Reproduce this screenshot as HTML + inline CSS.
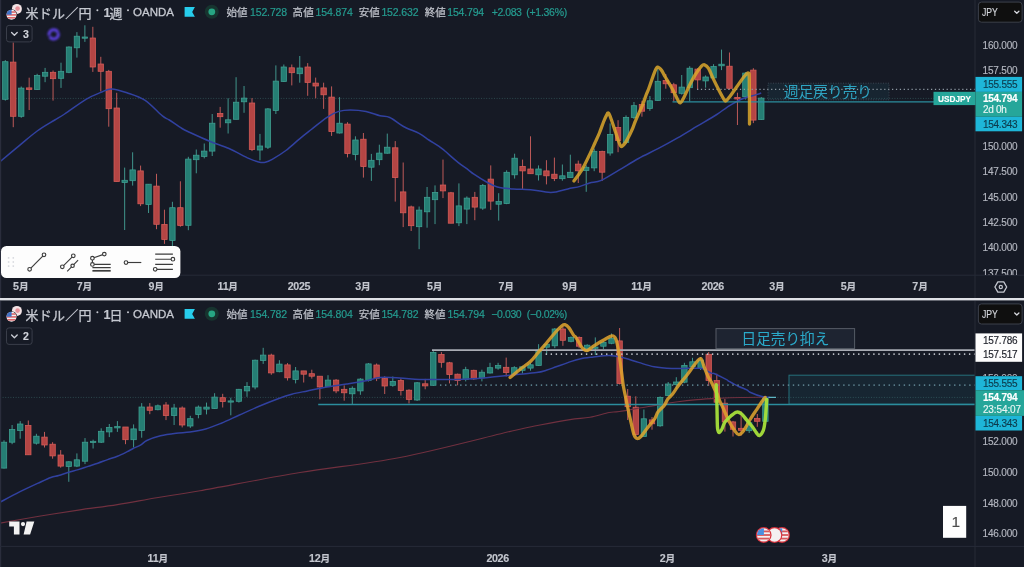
<!DOCTYPE html><html lang="ja"><head><meta charset="utf-8"><title>USDJPY</title><style>
html,body{margin:0;padding:0}
body{width:1024px;height:567px;overflow:hidden;background:#161a25;position:relative;font-family:"Liberation Sans","Noto Sans CJK JP",sans-serif}
#c{position:absolute;left:0;top:0;filter:blur(.38px)}
.t{filter:blur(.3px);-webkit-text-stroke:.15px currentColor}
.t{position:absolute;white-space:nowrap}
.m{font-size:.9em}
.bg{fill:#257e74;stroke:#40a193;stroke-width:.75}
.br{fill:#b44544;stroke:#d85e5a;stroke-width:.75}
.wg{stroke:#48ab9e;stroke-width:.85}
.wr{stroke:#dc6662;stroke-width:.85}
</style></head><body>
<svg id="c" width="1024" height="567" viewBox="0 0 1024 567" fill="none">
<filter id="gl" x="-50%" y="-50%" width="200%" height="200%"><feGaussianBlur stdDeviation=".8"/></filter>
<defs><clipPath id="c1"><rect x="0" y="0" width="975" height="275.2"/></clipPath><clipPath id="c2"><rect x="0" y="301" width="975" height="245.4"/></clipPath></defs>
<g clip-path="url(#c1)">
<path d="M0 98.4H975" stroke="#3f6f70" stroke-width="1" stroke-dasharray="1 1.6" opacity=".55"/>
<path class="wg" d="M5.3 60.1V100.6"/>
<rect class="bg" x="2.6" y="61.7" width="5.4" height="37.6"/>
<path class="wr" d="M13.26 42.5V127.2"/>
<rect class="br" x="10.56" y="62.1" width="5.4" height="54.2"/>
<path class="wg" d="M21.22 86.5V117.8"/>
<rect class="bg" x="18.52" y="88.1" width="5.4" height="28.2"/>
<path class="wr" d="M29.17 77.7V110"/>
<rect class="br" x="26.47" y="87.9" width="5.4" height="1.6"/>
<path class="wg" d="M37.13 73.8V90"/>
<rect class="bg" x="34.43" y="75.4" width="5.4" height="14.1"/>
<path class="wg" d="M45.09 67.9V82.2"/>
<rect class="bg" x="42.39" y="72.3" width="5.4" height="3.9"/>
<path class="wr" d="M53.05 70.5V100.6"/>
<rect class="br" x="50.35" y="72.3" width="5.4" height="6.4"/>
<path class="wg" d="M61.01 62.7V87.9"/>
<rect class="bg" x="58.31" y="71.3" width="5.4" height="7"/>
<path class="wg" d="M68.96 46.4V73.2"/>
<rect class="bg" x="66.26" y="47" width="5.4" height="25.3"/>
<path class="wg" d="M76.92 32.1V57.6"/>
<rect class="bg" x="74.22" y="36.2" width="5.4" height="11.6"/>
<path class="wg" d="M84.88 25.3V41.9"/>
<rect class="bg" x="82.18" y="37" width="5.4" height="1.2"/>
<path class="wr" d="M92.84 26.8V71.9"/>
<rect class="br" x="90.14" y="38" width="5.4" height="29"/>
<path class="wr" d="M100.8 56.8V91.4"/>
<rect class="br" x="98.1" y="64" width="5.4" height="7.3"/>
<path class="wr" d="M108.75 69.9V126.7"/>
<rect class="br" x="106.05" y="71.3" width="5.4" height="37.4"/>
<path class="wr" d="M116.71 92.8V181.6"/>
<rect class="br" x="114.01" y="108" width="5.4" height="73.6"/>
<path class="wg" d="M124.67 167.6V230"/>
<rect class="bg" x="121.97" y="180.3" width="5.4" height="2.3"/>
<path class="wg" d="M132.63 152.3V185.6"/>
<rect class="bg" x="129.93" y="169.9" width="5.4" height="10.8"/>
<path class="wr" d="M140.59 165.6V206.1"/>
<rect class="br" x="137.89" y="170.9" width="5.4" height="32.9"/>
<path class="wg" d="M148.54 184.2V213"/>
<rect class="bg" x="145.84" y="184.2" width="5.4" height="20.3"/>
<path class="wr" d="M156.5 173.8V229.2"/>
<rect class="br" x="153.8" y="186.1" width="5.4" height="38.2"/>
<path class="wr" d="M164.46 209.7V243.9"/>
<rect class="br" x="161.76" y="224.4" width="5.4" height="15.2"/>
<path class="wg" d="M172.42 201.8V246"/>
<rect class="bg" x="169.72" y="207.7" width="5.4" height="32.7"/>
<path class="wr" d="M180.38 181.3V226.7"/>
<rect class="br" x="177.68" y="207.7" width="5.4" height="17.8"/>
<path class="wg" d="M188.33 156.8V230.2"/>
<rect class="bg" x="185.63" y="159.1" width="5.4" height="66.2"/>
<path class="wg" d="M196.29 149.5V173.3"/>
<rect class="bg" x="193.59" y="155.2" width="5.4" height="4.5"/>
<path class="wg" d="M204.25 143.5V158.4"/>
<rect class="bg" x="201.55" y="151.1" width="5.4" height="5.3"/>
<path class="wg" d="M212.21 114V156"/>
<rect class="bg" x="209.51" y="123.2" width="5.4" height="27.9"/>
<path class="wr" d="M220.17 106.9V127.7"/>
<rect class="br" x="217.47" y="113.4" width="5.4" height="3.3"/>
<path class="wg" d="M228.12 98.3V133.5"/>
<rect class="bg" x="225.42" y="119.8" width="5.4" height="3"/>
<path class="wg" d="M236.08 77.2V119.3"/>
<rect class="bg" x="233.38" y="102.2" width="5.4" height="17.1"/>
<path class="wg" d="M244.04 86V112.8"/>
<rect class="bg" x="241.34" y="98.1" width="5.4" height="3.7"/>
<path class="wr" d="M252 98.1V151.1"/>
<rect class="br" x="249.3" y="103" width="5.4" height="46.6"/>
<path class="wg" d="M259.96 133.9V160.3"/>
<rect class="bg" x="257.26" y="146" width="5.4" height="4"/>
<path class="wg" d="M267.91 108.1V149"/>
<rect class="bg" x="265.21" y="108.9" width="5.4" height="38.3"/>
<path class="wg" d="M275.87 65.4V114"/>
<rect class="bg" x="273.17" y="81.1" width="5.4" height="29.4"/>
<path class="wg" d="M283.83 64.5V82"/>
<rect class="bg" x="281.13" y="67" width="5.4" height="14.5"/>
<path class="wr" d="M291.79 64.5V85.4"/>
<rect class="br" x="289.09" y="67.8" width="5.4" height="4.9"/>
<path class="wg" d="M299.75 56V82.7"/>
<rect class="bg" x="297.05" y="68" width="5.4" height="5.7"/>
<path class="wr" d="M307.7 63.1V95.8"/>
<rect class="br" x="305" y="67" width="5.4" height="15.5"/>
<path class="wr" d="M315.66 77.6V98.3"/>
<rect class="br" x="312.96" y="83.1" width="5.4" height="2.9"/>
<path class="wr" d="M323.62 82.7V108.9"/>
<rect class="br" x="320.92" y="87.9" width="5.4" height="6.9"/>
<path class="wr" d="M331.58 86.4V135.9"/>
<rect class="br" x="328.88" y="97.1" width="5.4" height="34.5"/>
<path class="wg" d="M339.54 97.1V133.5"/>
<rect class="bg" x="336.84" y="123.2" width="5.4" height="9.8"/>
<path class="wr" d="M347.49 122.2V157.4"/>
<rect class="br" x="344.79" y="124.1" width="5.4" height="29.4"/>
<path class="wg" d="M355.45 136.3V160.3"/>
<rect class="bg" x="352.75" y="140" width="5.4" height="14.5"/>
<path class="wr" d="M363.41 133V177.6"/>
<rect class="br" x="360.71" y="139.2" width="5.4" height="27.4"/>
<path class="wg" d="M371.37 153.9V180.9"/>
<rect class="bg" x="368.67" y="160.3" width="5.4" height="6.9"/>
<path class="wg" d="M379.33 144.7V165.2"/>
<rect class="bg" x="376.63" y="153.1" width="5.4" height="6.6"/>
<path class="wg" d="M387.28 133.6V153.7"/>
<rect class="bg" x="384.58" y="147.2" width="5.4" height="6"/>
<path class="wr" d="M395.24 141.1V201.6"/>
<rect class="br" x="392.54" y="147.8" width="5.4" height="29.8"/>
<path class="wr" d="M403.2 162.5V227.1"/>
<rect class="br" x="400.5" y="191.9" width="5.4" height="20.9"/>
<path class="wr" d="M411.16 205.6V231"/>
<rect class="br" x="408.46" y="206.9" width="5.4" height="18.8"/>
<path class="wg" d="M419.12 206.5V249.2"/>
<rect class="bg" x="416.42" y="210.1" width="5.4" height="16.6"/>
<path class="wg" d="M427.07 187V227.7"/>
<rect class="bg" x="424.37" y="197.3" width="5.4" height="14.5"/>
<path class="wg" d="M435.03 185.4V224.1"/>
<rect class="bg" x="432.33" y="192.4" width="5.4" height="7.3"/>
<path class="wr" d="M442.99 159.6V198.1"/>
<rect class="br" x="440.29" y="185" width="5.4" height="5.9"/>
<path class="wr" d="M450.95 191.9V223.2"/>
<rect class="br" x="448.25" y="192.8" width="5.4" height="30.4"/>
<path class="wg" d="M458.91 183.4V226.1"/>
<rect class="bg" x="456.21" y="205.9" width="5.4" height="16.9"/>
<path class="wg" d="M466.86 196.4V224.1"/>
<rect class="bg" x="464.16" y="198.1" width="5.4" height="11"/>
<path class="wr" d="M474.82 191.9V220.2"/>
<rect class="br" x="472.12" y="197.3" width="5.4" height="9.8"/>
<path class="wg" d="M482.78 184V209.9"/>
<rect class="bg" x="480.08" y="185.6" width="5.4" height="22.5"/>
<path class="wr" d="M490.74 165.4V209.9"/>
<rect class="br" x="488.04" y="179.1" width="5.4" height="22"/>
<path class="wg" d="M498.7 193.2V220.6"/>
<rect class="bg" x="496" y="201.6" width="5.4" height="2.6"/>
<path class="wg" d="M506.65 170.3V204.2"/>
<rect class="bg" x="503.95" y="172.3" width="5.4" height="31.3"/>
<path class="wg" d="M514.61 153.7V178.6"/>
<rect class="bg" x="511.91" y="158.2" width="5.4" height="16.6"/>
<path class="wr" d="M522.57 159.6V188.9"/>
<rect class="br" x="519.87" y="166.4" width="5.4" height="4.5"/>
<path class="wr" d="M530.53 136.3V173.7"/>
<rect class="br" x="527.83" y="169" width="5.4" height="4.7"/>
<path class="wg" d="M538.49 165.4V180.5"/>
<rect class="bg" x="535.79" y="169" width="5.4" height="5.8"/>
<path class="wr" d="M546.44 160.2V184.4"/>
<rect class="br" x="543.74" y="170.9" width="5.4" height="4.9"/>
<path class="wr" d="M554.4 157.6V181.1"/>
<rect class="br" x="551.7" y="174.2" width="5.4" height="4.4"/>
<path class="wg" d="M562.36 164.5V180.7"/>
<rect class="bg" x="559.66" y="175.8" width="5.4" height="2.9"/>
<path class="wg" d="M570.32 154.7V177.6"/>
<rect class="bg" x="567.62" y="172.3" width="5.4" height="5.3"/>
<path class="wr" d="M578.28 160.6V183"/>
<rect class="br" x="575.58" y="164.1" width="5.4" height="6.7"/>
<path class="wg" d="M586.23 165.3V191.8"/>
<rect class="bg" x="583.53" y="167.3" width="5.4" height="3.3"/>
<path class="wg" d="M594.19 148.7V171.2"/>
<rect class="bg" x="591.49" y="151.3" width="5.4" height="16.6"/>
<path class="wr" d="M602.15 150.7V181"/>
<rect class="br" x="599.45" y="151.6" width="5.4" height="20.6"/>
<path class="wg" d="M610.11 123.4V155.6"/>
<rect class="bg" x="607.41" y="134.4" width="5.4" height="18.6"/>
<path class="wr" d="M618.07 120.2V152.2"/>
<rect class="br" x="615.37" y="127.5" width="5.4" height="13"/>
<path class="wg" d="M626.02 115.4V143.8"/>
<rect class="bg" x="623.32" y="117.4" width="5.4" height="25"/>
<path class="wg" d="M633.98 102V119"/>
<rect class="bg" x="631.28" y="105.7" width="5.4" height="11.7"/>
<path class="wr" d="M641.94 100.8V116.7"/>
<rect class="br" x="639.24" y="104.5" width="5.4" height="6.7"/>
<path class="wg" d="M649.9 96V110.8"/>
<rect class="bg" x="647.2" y="100.8" width="5.4" height="7.6"/>
<path class="wg" d="M657.86 68.2V101"/>
<rect class="bg" x="655.16" y="81.3" width="5.4" height="19.1"/>
<path class="wr" d="M665.81 74V88.7"/>
<rect class="br" x="663.11" y="80.5" width="5.4" height="3.3"/>
<path class="wr" d="M673.77 82.8V101.3"/>
<rect class="br" x="671.07" y="84.8" width="5.4" height="7.9"/>
<path class="wg" d="M681.73 75V94.6"/>
<rect class="bg" x="679.03" y="87.1" width="5.4" height="6.2"/>
<path class="wg" d="M689.69 66.2V101.4"/>
<rect class="bg" x="686.99" y="68.2" width="5.4" height="19.5"/>
<path class="wr" d="M697.65 68.2V89.7"/>
<rect class="br" x="694.95" y="69.1" width="5.4" height="10.8"/>
<path class="wg" d="M705.6 75.4V87.7"/>
<rect class="bg" x="702.9" y="77" width="5.4" height="3.9"/>
<path class="wg" d="M713.56 64.2V78.9"/>
<rect class="bg" x="710.86" y="66.6" width="5.4" height="11.3"/>
<path class="wg" d="M721.52 49.6V70.1"/>
<rect class="bg" x="718.82" y="64.2" width="5.4" height="1.6"/>
<path class="wr" d="M729.48 52.5V89.7"/>
<rect class="br" x="726.78" y="66.2" width="5.4" height="22.1"/>
<path class="wr" d="M737.44 92.7V125"/>
<rect class="br" x="734.74" y="97.4" width="5.4" height="1.6"/>
<path class="wg" d="M745.39 72.1V99.6"/>
<rect class="bg" x="742.69" y="73.1" width="5.4" height="23.7"/>
<path class="wr" d="M753.35 68.2V123.1"/>
<rect class="br" x="750.65" y="70.1" width="5.4" height="50"/>
<path class="wg" d="M761.31 97.1V120"/>
<rect class="bg" x="758.61" y="98.1" width="5.4" height="21.4"/>
<path d="M0 161.7C3.27 158.98 13.4 150.52 19.6 145.4C25.8 140.28 31.33 135.23 37.2 131C43.07 126.77 50.23 122.83 54.8 120C59.37 117.17 59.4 117.45 64.6 114C69.8 110.55 79.8 102.97 86 99.3C92.2 95.63 97.55 93.73 101.8 92C106.05 90.27 107.3 88.77 111.5 88.9C115.7 89.03 121.45 90.92 127 92.8C132.55 94.68 138.9 96.35 144.8 100.2C150.7 104.05 158.32 112.6 162.4 115.9C166.48 119.2 166.03 117.9 169.3 120C172.57 122.1 178.55 126.42 182 128.5C185.45 130.58 185.4 130.38 190 132.5C194.6 134.62 203.1 138.53 209.6 141.2C216.1 143.87 222.48 145.63 229 148.5C235.52 151.37 243.78 156.17 248.7 158.4C253.62 160.63 255.73 161.25 258.5 161.9C261.27 162.55 263.02 162.72 265.3 162.3C267.58 161.88 268.77 161.37 272.2 159.4C275.63 157.43 281.33 153.93 285.9 150.5C290.47 147.07 295.37 142.3 299.6 138.8C303.83 135.3 306.73 133.08 311.3 129.5C315.87 125.92 322.43 120.32 327 117.3C331.57 114.28 334.78 112.63 338.7 111.4C342.62 110.17 345.95 109.9 350.5 109.9C355.05 109.9 361.08 110.42 366 111.4C370.92 112.38 376.03 114.78 380 115.8C383.97 116.82 385.88 115.72 389.8 117.5C393.72 119.28 398.62 123.85 403.5 126.5C408.38 129.15 414.87 131.15 419.1 133.4C423.33 135.65 425.63 137.88 428.9 140C432.17 142.12 436.08 144.3 438.7 146.1C441.32 147.9 441.33 148.05 444.6 150.8C447.87 153.55 454.4 159.47 458.3 162.6C462.2 165.73 465.4 167.67 468 169.6C470.6 171.53 470.95 172.22 473.9 174.2C476.85 176.18 481.78 179.37 485.7 181.5C489.62 183.63 492.83 185.77 497.4 187C501.97 188.23 507.23 188.42 513.1 188.9C518.97 189.38 526.73 189.33 532.6 189.9C538.47 190.47 544.38 191.97 548.3 192.3C552.22 192.63 552.83 192.47 556.1 191.9C559.37 191.33 563.92 189.82 567.9 188.9C571.88 187.98 576.38 187.38 580 186.4C583.62 185.42 586.05 184 589.6 183C593.15 182 596.42 182.53 601.3 180.4C606.18 178.27 612.7 173.85 618.9 170.2C625.1 166.55 631.98 162.08 638.5 158.5C645.02 154.92 651.48 152.13 658 148.7C664.52 145.27 671.07 141.65 677.6 137.9C684.13 134.15 690.67 130.1 697.2 126.2C703.73 122.3 711.83 117.65 716.8 114.5C721.77 111.35 723.02 109.8 727 107.3C730.98 104.8 735.82 101.62 740.7 99.5C745.58 97.38 752.88 95.68 756.3 94.6C759.72 93.52 760.38 93.27 761.2 93" fill="none" stroke="#3141a0" stroke-width="1.5" stroke-linejoin="round"/>
<rect x="768" y="83.2" width="121" height="16.6" fill="rgba(40,140,160,.10)" stroke="#3a4552" stroke-width="1" stroke-dasharray="1 1.5"/>
<path d="M697 89.4H975" stroke="#8e99a3" stroke-width="1.25" stroke-dasharray="1.25 2.65" stroke-linecap="butt"/>
<path d="M672.5 101.9H975" stroke="#2b8d9d" stroke-width="1.4"/>
<path d="M573.9 181C575.2 179.2 579.08 174.6 581.7 170.2C584.32 165.8 587.4 159.13 589.6 154.6C591.8 150.07 593.27 146.6 594.9 143C596.53 139.4 597.97 136.5 599.4 133C600.83 129.5 602.3 124.98 603.5 122C604.7 119.02 605.75 116.57 606.6 115.1C607.45 113.63 607.78 112.38 608.6 113.2C609.42 114.02 610.37 116.9 611.5 120C612.63 123.1 614.23 128.3 615.4 131.8C616.57 135.3 617.58 138.58 618.5 141C619.42 143.42 620.07 145.63 620.9 146.3C621.73 146.97 622.45 146.12 623.5 145C624.55 143.88 625.68 142.35 627.2 139.6C628.72 136.85 631.3 131.43 632.6 128.5C633.9 125.57 633.68 125.15 635 122C636.32 118.85 639.2 112.53 640.5 109.6C641.8 106.67 641.83 106.92 642.8 104.4C643.77 101.88 645.32 97.12 646.3 94.5C647.28 91.88 647.32 92.43 648.7 88.7C650.08 84.97 653.13 75.68 654.6 72.1C656.07 68.52 656.37 67.53 657.5 67.2C658.63 66.87 660.1 68.47 661.4 70.1C662.7 71.73 663.5 73.9 665.3 77C667.1 80.1 670.07 84.78 672.2 88.7C674.33 92.62 676.73 98.15 678.1 100.5C679.47 102.85 679.43 103.3 680.4 102.8C681.37 102.3 682.33 100.5 683.9 97.5C685.47 94.5 687.83 88.72 689.8 84.8C691.77 80.88 693.75 77.1 695.7 74C697.65 70.9 700.03 67.73 701.5 66.2C702.97 64.67 703.35 64.47 704.5 64.8C705.65 65.13 706.93 65.85 708.4 68.2C709.87 70.55 711.5 75.15 713.3 78.9C715.1 82.65 717.4 87.27 719.2 90.7C721 94.13 722.97 97.82 724.1 99.5C725.23 101.18 725.03 101.3 726 100.8C726.97 100.3 728.1 98.83 729.9 96.5C731.7 94.17 734.35 90.22 736.8 86.8C739.25 83.38 742.65 78.3 744.6 76C746.55 73.7 747.72 72.33 748.5 73C749.28 73.67 749.13 71.5 749.3 80C749.47 88.5 749.47 116.67 749.5 124" fill="none" stroke="#dba72c" stroke-opacity=".85" stroke-width="3.3" stroke-linejoin="round" stroke-linecap="round"/>
</g>
<g clip-path="url(#c2)">
<path d="M0 397.4H975" stroke="#3f6f70" stroke-width="1" stroke-dasharray="1 1.6" opacity=".55"/>
<rect x="789" y="375.2" width="190" height="29" fill="rgba(40,150,165,.10)" stroke="#25707c" stroke-width="1"/>
<path class="wg" d="M4 440.3V468.5"/>
<rect class="bg" x="1.3" y="442.2" width="5.4" height="25.9"/>
<path class="wg" d="M12.1 425V444.2"/>
<rect class="bg" x="9.4" y="429.5" width="5.4" height="12.7"/>
<path class="wg" d="M20.2 421.1V438.7"/>
<rect class="bg" x="17.5" y="424" width="5.4" height="6.5"/>
<path class="wr" d="M28.3 420.5V454.8"/>
<rect class="br" x="25.6" y="425.4" width="5.4" height="29.4"/>
<path class="wg" d="M36.4 433.8V444.6"/>
<rect class="bg" x="33.7" y="436.2" width="5.4" height="7"/>
<path class="wr" d="M44.5 431.9V447.5"/>
<rect class="br" x="41.8" y="437.1" width="5.4" height="7.9"/>
<path class="wr" d="M52.6 442.2V458.7"/>
<rect class="br" x="49.9" y="444.2" width="5.4" height="11.7"/>
<path class="wr" d="M60.7 450.1V467.7"/>
<rect class="br" x="58" y="455" width="5.4" height="11.1"/>
<path class="wg" d="M68.8 461.2V481.8"/>
<rect class="bg" x="66.1" y="461.8" width="5.4" height="4.7"/>
<path class="wg" d="M76.9 453.4V467.1"/>
<rect class="bg" x="74.2" y="459.8" width="5.4" height="6.3"/>
<path class="wg" d="M85 438.1V464.1"/>
<rect class="bg" x="82.3" y="442.2" width="5.4" height="19"/>
<path class="wg" d="M93.1 439.7V448.5"/>
<rect class="bg" x="90.4" y="441.3" width="5.4" height="1.3"/>
<path class="wg" d="M101.2 428.3V443"/>
<rect class="bg" x="98.5" y="431.3" width="5.4" height="10.9"/>
<path class="wg" d="M109.3 424V437.1"/>
<rect class="bg" x="106.6" y="427.4" width="5.4" height="4.5"/>
<path class="wg" d="M117.4 421.1V431.9"/>
<rect class="bg" x="114.7" y="426.6" width="5.4" height="1.3"/>
<path class="wr" d="M125.5 427V444.2"/>
<rect class="br" x="122.8" y="427" width="5.4" height="12.7"/>
<path class="wg" d="M133.6 424.4V447.5"/>
<rect class="bg" x="130.9" y="428.9" width="5.4" height="10.8"/>
<path class="wg" d="M141.7 403.1V437.7"/>
<rect class="bg" x="139" y="407" width="5.4" height="23.5"/>
<path class="wr" d="M149.8 403.1V414.2"/>
<rect class="br" x="147.1" y="407" width="5.4" height="3.3"/>
<path class="wg" d="M157.9 404.5V410.3"/>
<rect class="bg" x="155.2" y="405.8" width="5.4" height="3.9"/>
<path class="wr" d="M166 402.1V420.1"/>
<rect class="br" x="163.3" y="405" width="5.4" height="10.6"/>
<path class="wg" d="M174.1 403.9V425"/>
<rect class="bg" x="171.4" y="408" width="5.4" height="7.6"/>
<path class="wr" d="M182.2 406.4V427.4"/>
<rect class="br" x="179.5" y="408" width="5.4" height="17"/>
<path class="wg" d="M190.3 415.8V427.9"/>
<rect class="bg" x="187.6" y="418.7" width="5.4" height="7.3"/>
<path class="wg" d="M198.4 405.5V418.3"/>
<rect class="bg" x="195.7" y="407.1" width="5.4" height="7.4"/>
<path class="wg" d="M206.5 402.6V414.4"/>
<rect class="bg" x="203.8" y="407.1" width="5.4" height="2"/>
<path class="wg" d="M214.6 393.2V408.9"/>
<rect class="bg" x="211.9" y="397.1" width="5.4" height="11.4"/>
<path class="wr" d="M222.7 393.8V407.5"/>
<rect class="br" x="220" y="397.7" width="5.4" height="3.9"/>
<path class="wg" d="M230.8 397.7V415.3"/>
<rect class="bg" x="228.1" y="400.9" width="5.4" height="1.2"/>
<path class="wg" d="M238.9 388.9V402.6"/>
<rect class="bg" x="236.2" y="389.3" width="5.4" height="12"/>
<path class="wg" d="M247 382.1V396.8"/>
<rect class="bg" x="244.3" y="386.4" width="5.4" height="4.5"/>
<path class="wg" d="M255.1 359.6V389.3"/>
<rect class="bg" x="252.4" y="360.2" width="5.4" height="26.8"/>
<path class="wg" d="M263.2 347.8V363.9"/>
<rect class="bg" x="260.5" y="355.1" width="5.4" height="5.4"/>
<path class="wr" d="M271.3 353.7V374.8"/>
<rect class="br" x="268.6" y="355.1" width="5.4" height="17.8"/>
<path class="wg" d="M279.4 360.2V372.3"/>
<rect class="bg" x="276.7" y="364.1" width="5.4" height="7.6"/>
<path class="wr" d="M287.5 363.1V380.5"/>
<rect class="br" x="284.8" y="364.9" width="5.4" height="12.9"/>
<path class="wg" d="M295.6 367V383.4"/>
<rect class="bg" x="292.9" y="370.9" width="5.4" height="8.6"/>
<path class="wr" d="M303.7 370.9V382.5"/>
<rect class="br" x="301" y="370.9" width="5.4" height="3.3"/>
<path class="wr" d="M311.8 369.7V378.6"/>
<rect class="br" x="309.1" y="373.7" width="5.4" height="2.5"/>
<path class="wr" d="M319.9 376.2V399.3"/>
<rect class="br" x="317.2" y="376.2" width="5.4" height="10.8"/>
<path class="wg" d="M328 375.2V387"/>
<rect class="bg" x="325.3" y="380.1" width="5.4" height="6.5"/>
<path class="wr" d="M336.1 379.1V393.2"/>
<rect class="br" x="333.4" y="380.1" width="5.4" height="10.8"/>
<path class="wr" d="M344.2 385.4V400.7"/>
<rect class="br" x="341.5" y="389.3" width="5.4" height="3.5"/>
<path class="wg" d="M352.3 386.4V404.2"/>
<rect class="bg" x="349.6" y="388.3" width="5.4" height="5.5"/>
<path class="wg" d="M360.4 378.2V394.8"/>
<rect class="bg" x="357.7" y="379.1" width="5.4" height="11.8"/>
<path class="wg" d="M368.5 363.1V381.5"/>
<rect class="bg" x="365.8" y="363.9" width="5.4" height="16.6"/>
<path class="wr" d="M376.6 363.5V381.1"/>
<rect class="br" x="373.9" y="365" width="5.4" height="13.2"/>
<path class="wr" d="M384.7 376.3V394"/>
<rect class="br" x="382" y="378.3" width="5.4" height="7.7"/>
<path class="wg" d="M392.8 376.5V386.7"/>
<rect class="bg" x="390.1" y="381.4" width="5.4" height="3.9"/>
<path class="wr" d="M400.9 378.5V395.5"/>
<rect class="br" x="398.2" y="380.5" width="5.4" height="10.1"/>
<path class="wr" d="M409 389.3V403.5"/>
<rect class="br" x="406.3" y="390.2" width="5.4" height="9.2"/>
<path class="wg" d="M417.1 382V401"/>
<rect class="bg" x="414.4" y="382.8" width="5.4" height="17.2"/>
<path class="wr" d="M425.2 378.9V389.3"/>
<rect class="br" x="422.5" y="383.8" width="5.4" height="2.1"/>
<path class="wg" d="M433.3 351.1V385.9"/>
<rect class="bg" x="430.6" y="352.5" width="5.4" height="32.8"/>
<path class="wr" d="M441.4 352.1V367.7"/>
<rect class="br" x="438.7" y="354.4" width="5.4" height="7.9"/>
<path class="wr" d="M449.5 361.9V383.4"/>
<rect class="br" x="446.8" y="362.8" width="5.4" height="11.8"/>
<path class="wr" d="M457.6 373.6V385.3"/>
<rect class="br" x="454.9" y="374.2" width="5.4" height="6.3"/>
<path class="wg" d="M465.7 366.8V381.4"/>
<rect class="bg" x="463" y="369.7" width="5.4" height="9.8"/>
<path class="wr" d="M473.8 369.7V379.9"/>
<rect class="br" x="471.1" y="370.3" width="5.4" height="8.6"/>
<path class="wg" d="M481.9 369.7V381.4"/>
<rect class="bg" x="479.2" y="372.2" width="5.4" height="5.7"/>
<path class="wg" d="M490 362.8V373.6"/>
<rect class="bg" x="487.3" y="367.7" width="5.4" height="5.3"/>
<path class="wg" d="M498.1 362.8V369.7"/>
<rect class="bg" x="495.4" y="365.4" width="5.4" height="2.7"/>
<path class="wr" d="M506.2 357.6V376.5"/>
<rect class="br" x="503.5" y="367.3" width="5.4" height="5.3"/>
<path class="wg" d="M514.3 366.2V375.6"/>
<rect class="bg" x="511.6" y="367.7" width="5.4" height="6.9"/>
<path class="wg" d="M522.4 365.8V373.6"/>
<rect class="bg" x="519.7" y="366.8" width="5.4" height="3.5"/>
<path class="wg" d="M530.5 362.8V370.7"/>
<rect class="bg" x="527.8" y="364.8" width="5.4" height="3.3"/>
<path class="wg" d="M538.6 344.2V365.8"/>
<rect class="bg" x="535.9" y="350.1" width="5.4" height="15.3"/>
<path class="wg" d="M546.7 343.3V354.6"/>
<rect class="bg" x="544" y="344.2" width="5.4" height="3"/>
<path class="wg" d="M554.8 328V348.2"/>
<rect class="bg" x="552.1" y="329" width="5.4" height="16.8"/>
<path class="wr" d="M562.9 326.6V345.8"/>
<rect class="br" x="560.2" y="329" width="5.4" height="11.3"/>
<path class="wg" d="M571 336.4V342.3"/>
<rect class="bg" x="568.3" y="337.5" width="5.4" height="3.8"/>
<path class="wr" d="M579.1 336.4V348.2"/>
<rect class="br" x="576.4" y="337.4" width="5.4" height="8.8"/>
<path class="wg" d="M587.2 344.2V352.1"/>
<rect class="bg" x="584.5" y="345.2" width="5.4" height="3.4"/>
<path class="wg" d="M595.3 337.4V355"/>
<rect class="bg" x="592.6" y="347.1" width="5.4" height="1.2"/>
<path class="wg" d="M603.4 341.3V349.1"/>
<rect class="bg" x="600.7" y="342.3" width="5.4" height="3.9"/>
<path class="wg" d="M611.5 333.5V344.2"/>
<rect class="bg" x="608.8" y="338.4" width="5.4" height="4.9"/>
<path class="wr" d="M619.6 328V384.4"/>
<rect class="br" x="616.9" y="340.9" width="5.4" height="42.6"/>
<path class="wr" d="M627.7 389V420"/>
<rect class="br" x="625" y="396.2" width="5.4" height="10.5"/>
<path class="wr" d="M635.8 396.3V436.5"/>
<rect class="br" x="633.1" y="407.2" width="5.4" height="27.4"/>
<path class="wg" d="M643.9 409.5V436.5"/>
<rect class="bg" x="641.2" y="418.8" width="5.4" height="17.7"/>
<path class="wr" d="M652 417V429.7"/>
<rect class="br" x="649.3" y="419.9" width="5.4" height="3.9"/>
<path class="wg" d="M660.1 396.4V426.8"/>
<rect class="bg" x="657.4" y="397.4" width="5.4" height="28.4"/>
<path class="wg" d="M668.2 382V396.3"/>
<rect class="bg" x="665.5" y="384" width="5.4" height="11.4"/>
<path class="wg" d="M676.3 377.2V389.1"/>
<rect class="bg" x="673.6" y="382" width="5.4" height="2.5"/>
<path class="wg" d="M684.4 362.8V383.2"/>
<rect class="bg" x="681.7" y="365.4" width="5.4" height="16.8"/>
<path class="wg" d="M692.5 357.8V367.5"/>
<rect class="bg" x="689.8" y="361.8" width="5.4" height="4.9"/>
<path class="wg" d="M700.6 357V370"/>
<rect class="bg" x="697.9" y="360" width="5.4" height="8"/>
<path class="wr" d="M708.7 352V386"/>
<rect class="br" x="706" y="354.3" width="5.4" height="26.3"/>
<path class="wr" d="M716.8 373.7V403.2"/>
<rect class="br" x="714.1" y="380.6" width="5.4" height="21.6"/>
<path class="wr" d="M724.9 399V431.6"/>
<rect class="br" x="722.2" y="403.2" width="5.4" height="18.7"/>
<path class="wr" d="M733 420.9V436.5"/>
<rect class="br" x="730.3" y="421.9" width="5.4" height="7.4"/>
<path class="wr" d="M741.1 411.1V435.6"/>
<rect class="br" x="738.4" y="428.3" width="5.4" height="2"/>
<path class="wg" d="M749.2 420V433"/>
<rect class="bg" x="746.5" y="422.8" width="5.4" height="7.9"/>
<path class="wr" d="M757.3 414V426.8"/>
<rect class="br" x="754.6" y="418.5" width="5.4" height="2.8"/>
<path class="wg" d="M765.4 396.4V421.9"/>
<rect class="bg" x="762.7" y="397.4" width="5.4" height="23.9"/>
<path d="M0 523.2C6.52 522.05 26.05 518.48 39.1 516.3C52.15 514.12 65.25 512.05 78.3 510.1C91.35 508.15 104.35 506.67 117.4 504.6C130.45 502.53 142.83 500.02 156.6 497.7C170.37 495.38 176.1 494.9 200 490.7C223.9 486.5 266.67 478.03 300 472.5C333.33 466.97 364.67 464.42 400 457.5C435.33 450.58 488.67 436.42 512 431C535.33 425.58 530.33 426.9 540 425C549.67 423.1 561.67 420.88 570 419.6C578.33 418.32 583.48 418.48 590 417.3C596.52 416.12 604.2 413.47 609.1 412.5C614 411.53 612.83 412.5 619.4 411.5C625.97 410.5 638.73 408.13 648.5 406.5C658.27 404.87 669.82 402.85 678 401.7C686.18 400.55 691.07 400.15 697.6 399.6C704.13 399.05 710.02 398.75 717.2 398.4C724.38 398.05 732.73 397.7 740.7 397.5C748.67 397.3 760.95 397.25 765 397.2" fill="none" stroke="#70303f" stroke-width="1.15"/>
<path d="M0 502.2C3.27 500.48 13.08 495.15 19.6 491.9C26.12 488.65 33.88 485.1 39.1 482.7C44.32 480.3 47.63 478.7 50.9 477.5C54.17 476.3 55.77 476.37 58.7 475.5C61.63 474.63 65.23 473.28 68.5 472.3C71.77 471.32 75.05 470.58 78.3 469.6C81.55 468.62 84.75 467.47 88 466.4C91.25 465.33 94.53 464.33 97.8 463.2C101.07 462.07 104.33 460.75 107.6 459.6C110.87 458.45 114.13 457.62 117.4 456.3C120.67 454.98 124.58 453 127.2 451.7C129.82 450.4 130.82 449.63 133.1 448.5C135.38 447.37 138.62 446.23 140.9 444.9C143.18 443.57 143.53 442.02 146.8 440.5C150.07 438.98 155.62 437.02 160.5 435.8C165.38 434.58 171.18 433.83 176.1 433.2C181.02 432.57 185.07 432.7 190 432C194.93 431.3 200.48 430.47 205.7 429C210.92 427.53 215.77 425.48 221.3 423.2C226.83 420.92 232.7 418.08 238.9 415.3C245.1 412.52 251.97 409.27 258.5 406.5C265.03 403.73 272.55 400.75 278.1 398.7C283.65 396.65 286.92 395.5 291.8 394.2C296.68 392.9 301.53 392.1 307.4 390.9C313.27 389.7 320.47 388.15 327 387C333.53 385.85 340.08 385.05 346.6 384C353.12 382.95 360.53 381.78 366.1 380.7C371.67 379.62 374.42 377.97 380 377.5C385.58 377.03 393.08 377.57 399.6 377.9C406.12 378.23 412.58 379.23 419.1 379.5C425.62 379.77 432.17 379.5 438.7 379.5C445.23 379.5 451.78 379.67 458.3 379.5C464.82 379.33 471.28 379 477.8 378.5C484.32 378 490.87 377.15 497.4 376.5C503.93 375.85 510.47 375.25 517 374.6C523.53 373.95 531.72 373.32 536.6 372.6C541.48 371.88 543.05 371.27 546.3 370.3C549.55 369.33 552.5 368.08 556.1 366.8C559.7 365.52 563.95 363.92 567.9 362.6C571.85 361.28 575.53 359.83 579.8 358.9C584.07 357.97 588.62 357.58 593.5 357C598.38 356.42 604.53 355.4 609.1 355.4C613.67 355.4 616 355.83 620.9 357C625.8 358.17 632.97 360.77 638.5 362.4C644.03 364.03 648.55 365.78 654.1 366.8C659.65 367.82 666.25 368.25 671.8 368.5C677.35 368.75 682.78 368.33 687.4 368.3C692.02 368.27 696.88 368.2 699.5 368.3C702.12 368.4 701.13 368.1 703.1 368.9C705.07 369.7 709.35 372.28 711.3 373.1C713.25 373.92 712.25 372.7 714.8 373.8C717.35 374.9 724.23 378.45 726.6 379.7C728.97 380.95 727.05 380.2 729 381.3C730.95 382.4 735.33 384.88 738.3 386.3C741.27 387.72 744.85 388.82 746.8 389.8C748.75 390.78 747.47 391.07 750 392.2C752.53 393.33 758.67 395.73 762 396.6C765.33 397.47 768.67 397.27 770 397.4" fill="none" stroke="#3141a0" stroke-width="1.5" stroke-linejoin="round"/>
<path d="M768.5 397.3H776" stroke="#5fb6c4" stroke-width="1.2"/>
<path d="M432 350.1H975" stroke="#a9acb4" stroke-width="1.8"/>
<path d="M546.3 354.1H975" stroke="#c9ccd3" stroke-width="1.7" stroke-dasharray="0 5.04" stroke-linecap="round"/>
<path d="M440.7 385.1H975" stroke="#5f8592" stroke-width="1.7" stroke-dasharray="0 5.04" stroke-linecap="round"/>
<path d="M318.2 404.5H975" stroke="#2b8d9d" stroke-width="1.6"/>
<rect x="716" y="328.6" width="138.6" height="20" fill="#1e2431" stroke="#565b66" stroke-width="1"/>
<path d="M510.1 377.5C511.9 376.03 517.47 371.4 520.9 368.7C524.33 366 527.77 364.07 530.7 361.3C533.63 358.53 535.9 355.1 538.5 352.1C541.1 349.1 543.37 346.73 546.3 343.3C549.23 339.87 553.48 334.43 556.1 331.5C558.72 328.57 560.53 326.83 562 325.7C563.47 324.57 563.77 324.38 564.9 324.7C566.03 325.02 567.33 325.82 568.8 327.6C570.27 329.38 572.52 333.77 573.7 335.4C574.88 337.03 574.57 335.43 575.9 337.4C577.23 339.37 579.92 344.98 581.7 347.2C583.48 349.42 584.63 350.87 586.6 350.7C588.57 350.53 590.72 347.93 593.5 346.2C596.28 344.47 600.2 342.03 603.3 340.3C606.4 338.57 609.98 335.95 612.1 335.8C614.22 335.65 614.87 336.52 616 339.4C617.13 342.28 617.92 347.23 618.9 353.1C619.88 358.97 621.17 369.17 621.9 374.6C622.63 380.03 622.65 381.78 623.3 385.7C623.95 389.62 625.15 394.85 625.8 398.1C626.45 401.35 626.32 401.08 627.2 405.2C628.08 409.32 629.97 417.9 631.1 422.8C632.23 427.7 633.02 431.98 634 434.6C634.98 437.22 635.85 438.18 637 438.5C638.15 438.82 639.27 438.13 640.9 436.5C642.53 434.87 644.52 431.63 646.8 428.7C649.08 425.77 652.72 421.72 654.6 418.9C656.48 416.08 656.47 414.08 658.1 411.8C659.73 409.52 662.78 407.33 664.4 405.2C666.02 403.07 666.5 400.78 667.8 399C669.1 397.22 670.42 396.75 672.2 394.5C673.98 392.25 675.97 388.82 678.5 385.5C681.03 382.18 684.62 378.22 687.4 374.6C690.18 370.98 692.98 366.47 695.2 363.8C697.42 361.13 699.22 358.1 700.7 358.6C702.18 359.1 702.88 363.82 704.1 366.8C705.32 369.78 706.8 373.97 708 376.5C709.2 379.03 710.17 379.83 711.3 382C712.43 384.17 713.82 387.5 714.8 389.5C715.78 391.5 716.38 392.08 717.2 394C718.02 395.92 718.72 398.67 719.7 401C720.68 403.33 721.57 404.68 723.1 408C724.63 411.32 726.95 417.12 728.9 420.9C730.85 424.68 733.17 428.42 734.8 430.7C736.43 432.98 737.23 434.6 738.7 434.6C740.17 434.6 741.63 433.32 743.6 430.7C745.57 428.08 748.38 422.33 750.5 418.9C752.62 415.47 754.35 413.03 756.3 410.1C758.25 407.17 760.73 403.42 762.2 401.3C763.67 399.18 764.62 398.05 765.1 397.4" fill="none" stroke="#dfa42d" stroke-opacity=".86" stroke-width="3.3" stroke-linejoin="round" stroke-linecap="round"/>
<path d="M716.2 384.7C716.3 387.15 716.63 393.7 716.8 399.4C716.97 405.1 717.07 414.02 717.2 418.9C717.33 423.78 717.27 426.42 717.6 428.7C717.93 430.98 718.45 432.6 719.2 432.6C719.95 432.6 721.13 430.48 722.1 428.7C723.07 426.92 723.53 424.02 725 421.9C726.47 419.78 728.93 417.63 730.9 416C732.87 414.37 735 412.43 736.8 412.1C738.6 411.77 740.07 412.7 741.7 414C743.33 415.3 744.82 417.77 746.6 419.9C748.38 422.03 750.78 424.68 752.4 426.8C754.02 428.92 755.15 431.13 756.3 432.6C757.45 434.07 758.15 435.92 759.3 435.6C760.45 435.28 762.23 433.15 763.2 430.7C764.17 428.25 764.62 424.5 765.1 420.9C765.58 417.3 765.83 412.68 766.1 409.1C766.37 405.52 766.6 401.02 766.7 399.4" fill="none" stroke="#a6e03a" stroke-opacity=".95" stroke-width="3.4" stroke-linejoin="round" stroke-linecap="round"/>
</g>
<path d="M0.5 0V298M0.5 301V567" stroke="#2a2d3c" stroke-width="1.4"/>
<path d="M975 0V298M975 301V567" stroke="#272b37" stroke-width="1"/>
<path d="M0 275.2H1024M0 546.4H1024" stroke="#272b37" stroke-width="1"/>
<rect x="0" y="298" width="1024" height="2.4" fill="#dfe1e6"/>
<circle cx="16.9" cy="8.9" r="5" fill="#f3e4e6"/><circle cx="17.6" cy="8.6" r="2.3" fill="#e7929a"/><clipPath id="u0"><circle cx="11.5" cy="14.8" r="5"/></clipPath><circle cx="11.5" cy="14.8" r="5.6" fill="#161a25"/><g clip-path="url(#u0)"><rect x="6" y="9.3" width="11" height="11" fill="#f0f0f2"/><rect x="6" y="11.3" width="11" height="1.45" fill="#d9585c"/><rect x="6" y="14.2" width="11" height="1.45" fill="#d9585c"/><rect x="6" y="17.1" width="11" height="1.45" fill="#d9585c"/><rect x="6" y="20" width="11" height="1.45" fill="#d9585c"/><rect x="6" y="9.3" width="5.6" height="5.4" fill="#3f73c8"/></g><path d="M184.6 7H194.9L192.2 11.9L194.9 16.8H184.6Z" fill="#27cdec"/><circle cx="211.8" cy="11.8" r="7" fill="#17342f"/><circle cx="211.8" cy="11.8" r="3.4" fill="#27a583"/>
<circle cx="16.9" cy="310.9" r="5" fill="#f3e4e6"/><circle cx="17.6" cy="310.6" r="2.3" fill="#e7929a"/><clipPath id="u302"><circle cx="11.5" cy="316.8" r="5"/></clipPath><circle cx="11.5" cy="316.8" r="5.6" fill="#161a25"/><g clip-path="url(#u302)"><rect x="6" y="311.3" width="11" height="11" fill="#f0f0f2"/><rect x="6" y="313.3" width="11" height="1.45" fill="#d9585c"/><rect x="6" y="316.2" width="11" height="1.45" fill="#d9585c"/><rect x="6" y="319.1" width="11" height="1.45" fill="#d9585c"/><rect x="6" y="322" width="11" height="1.45" fill="#d9585c"/><rect x="6" y="311.3" width="5.6" height="5.4" fill="#3f73c8"/></g><path d="M184.6 309H194.9L192.2 313.9L194.9 318.8H184.6Z" fill="#27cdec"/><circle cx="211.8" cy="313.8" r="7" fill="#17342f"/><circle cx="211.8" cy="313.8" r="3.4" fill="#27a583"/>
<rect x="6.5" y="25.4" width="25.6" height="16.5" rx="2.5" fill="#161a25" stroke="#3a3e4a" stroke-width="1"/><path d="M11.6 32.6L14.4 35.2L17.2 32.6" fill="none" stroke="#c9ccd4" stroke-width="1.4" stroke-linecap="round" stroke-linejoin="round"/>
<rect x="6.5" y="327.9" width="25.6" height="16.5" rx="2.5" fill="#161a25" stroke="#3a3e4a" stroke-width="1"/><path d="M11.6 335.1L14.4 337.7L17.2 335.1" fill="none" stroke="#c9ccd4" stroke-width="1.4" stroke-linecap="round" stroke-linejoin="round"/>
<g filter="url(#gl)"><circle cx="53.7" cy="34.3" r="4.6" fill="none" stroke="#5a3fd8" stroke-width="3.1" stroke-dasharray="13.3 1.15" transform="rotate(-20 53.7 34.3)"/></g>
<rect x="1" y="245.9" width="179.4" height="32.2" rx="5.5" fill="#fdfdfd"/><rect x="7.85" y="257.15" width="1.5" height="1.5" fill="#d4d6dc"/><rect x="7.85" y="261.25" width="1.5" height="1.5" fill="#d4d6dc"/><rect x="7.85" y="265.35" width="1.5" height="1.5" fill="#d4d6dc"/><rect x="12.55" y="257.15" width="1.5" height="1.5" fill="#d4d6dc"/><rect x="12.55" y="261.25" width="1.5" height="1.5" fill="#d4d6dc"/><rect x="12.55" y="265.35" width="1.5" height="1.5" fill="#d4d6dc"/><path d="M29.6 269.3L44 254.8" stroke="#3c3c3c" stroke-width="1.15" fill="none"/><circle cx="29.6" cy="269.3" r="1.8" stroke="#3c3c3c" stroke-width="1.15" fill="#fdfdfd"/><circle cx="44" cy="254.8" r="1.8" stroke="#3c3c3c" stroke-width="1.15" fill="#fdfdfd"/><path d="M62.3 266.8L73.3 255.8M67.2 271.3L78.1 260.2" stroke="#3c3c3c" stroke-width="1.15" fill="none"/><circle cx="62.3" cy="266.8" r="1.8" stroke="#3c3c3c" stroke-width="1.15" fill="#fdfdfd"/><circle cx="73.3" cy="255.8" r="1.8" stroke="#3c3c3c" stroke-width="1.15" fill="#fdfdfd"/><circle cx="72.6" cy="265.8" r="1.7" stroke="#3c3c3c" stroke-width="1.15" fill="#fdfdfd"/><path d="M92.4 258.2L104.3 254.1M92.4 258.2V264.4M92.4 264.4H110.7M92.4 267.6H110.7" stroke="#3c3c3c" stroke-width="1.15" fill="none"/><path d="M92.4 270.8H110.7" stroke="#3c3c3c" stroke-width="1.7"/><circle cx="92.4" cy="258.2" r="1.8" stroke="#3c3c3c" stroke-width="1.15" fill="#fdfdfd"/><circle cx="104.3" cy="254.1" r="1.8" stroke="#3c3c3c" stroke-width="1.15" fill="#fdfdfd"/><circle cx="92.4" cy="264.4" r="1.8" stroke="#3c3c3c" stroke-width="1.15" fill="#fdfdfd"/><path d="M126 262.5H141.3" stroke="#3c3c3c" stroke-width="1.15" fill="none"/><circle cx="126" cy="262.5" r="1.8" stroke="#3c3c3c" stroke-width="1.15" fill="#fdfdfd"/><path d="M155.2 254.1H172.9M155.2 259.2H172.9M155.2 264.4H172.9M155.2 269.3H172.9" stroke="#3c3c3c" stroke-width="1.15" fill="none"/><circle cx="172.9" cy="259.2" r="1.8" stroke="#3c3c3c" stroke-width="1.15" fill="#fdfdfd"/><circle cx="155.2" cy="269.3" r="1.8" stroke="#3c3c3c" stroke-width="1.15" fill="#fdfdfd"/>
<path d="M1006.7 287L1003.75 292.11L997.85 292.11L994.9 287L997.85 281.89L1003.75 281.89Z" fill="none" stroke="#c4c7cf" stroke-width="1.3" stroke-linejoin="round"/><circle cx="1000.8" cy="287" r="1.6" fill="none" stroke="#c4c7cf" stroke-width="1.2"/>
<path d="M9.2 521.6H19.5V534.5H13.9V526.6H9.2Z M26.6 521.6H34.3L30.1 534.5H23.6Z" fill="#f2f2f2"/><circle cx="23" cy="524.1" r="2.1" fill="#f2f2f2"/>
<clipPath id="e0"><circle cx="782" cy="535" r="6.7"/></clipPath><circle cx="782" cy="535" r="7.9" fill="#d8323c"/><g clip-path="url(#e0)"><rect x="775" y="528" width="14" height="14" fill="#f4f0f1"/><rect x="775" y="530.5" width="14" height="1.8" fill="#d8585c"/><rect x="775" y="534.1" width="14" height="1.8" fill="#d8585c"/><rect x="775" y="537.7" width="14" height="1.8" fill="#d8585c"/><rect x="775" y="541.3" width="14" height="1.8" fill="#d8585c"/><rect x="775" y="528" width="7.2" height="7" fill="#4a8fe0"/></g><clipPath id="e1"><circle cx="774.5" cy="535" r="6.7"/></clipPath><circle cx="774.5" cy="535" r="7.9" fill="#d8323c"/><circle cx="774.5" cy="535" r="6.7" fill="#f4f0f1"/><clipPath id="e2"><circle cx="763.7" cy="535" r="6.7"/></clipPath><circle cx="763.7" cy="535" r="7.9" fill="#d8323c"/><g clip-path="url(#e2)"><rect x="756.7" y="528" width="14" height="14" fill="#f4f0f1"/><rect x="756.7" y="530.5" width="14" height="1.8" fill="#d8585c"/><rect x="756.7" y="534.1" width="14" height="1.8" fill="#d8585c"/><rect x="756.7" y="537.7" width="14" height="1.8" fill="#d8585c"/><rect x="756.7" y="541.3" width="14" height="1.8" fill="#d8585c"/><rect x="756.7" y="528" width="7.2" height="7" fill="#4a8fe0"/></g>
<rect x="943" y="505.9" width="23.2" height="31.9" fill="#fdfdfd"/>
<rect x="975.5" y="76.9" width="46.6" height="15" fill="#1eb6d8"/>
<rect x="975.5" y="91.9" width="46.6" height="24.9" fill="#26a69a"/>
<rect x="975.5" y="116.8" width="46.6" height="14.5" fill="#1eb6d8"/>
<rect x="933.5" y="91.8" width="42" height="13.3" fill="#26a69a"/>
<rect x="975.5" y="333.4" width="46.6" height="28.4" fill="#fdfdfd"/>
<rect x="975.5" y="376.2" width="46.6" height="14" fill="#1eb6d8"/>
<rect x="975.5" y="390.2" width="48.5" height="25.7" fill="#26a69a"/>
<rect x="975.5" y="415.9" width="46.6" height="14.6" fill="#1eb6d8"/>
<rect x="978.4" y="2.1" width="43.7" height="20.1" rx="3" fill="#0f0f0f" stroke="#3c404b" stroke-width="1"/>
<path d="M1014.7 11.2L1016.8 13.2L1018.9 11.2" fill="none" stroke="#d6d8de" stroke-width="1.3" stroke-linecap="round" stroke-linejoin="round"/>
<rect x="978.4" y="303.9" width="43.7" height="20.1" rx="3" fill="#0f0f0f" stroke="#3c404b" stroke-width="1"/>
<path d="M1014.7 313L1016.8 315L1018.9 313" fill="none" stroke="#d6d8de" stroke-width="1.3" stroke-linecap="round" stroke-linejoin="round"/>
<circle cx="97.4" cy="10.2" r="1" fill="#c5c8d0"/><circle cx="128" cy="10.2" r="1" fill="#c5c8d0"/>
<circle cx="97.4" cy="312.2" r="1" fill="#c5c8d0"/><circle cx="128" cy="312.2" r="1" fill="#c5c8d0"/>
<text x="783.73" y="96.9" font-size="15" letter-spacing="-0.33" fill="#2ea3c1" font-family="'Liberation Sans','Noto Sans CJK JP',sans-serif">週足戻り売り</text>
<text x="741.31" y="343.7" font-size="15" letter-spacing="-0.38" fill="#2aa9c9" font-family="'Liberation Sans','Noto Sans CJK JP',sans-serif">日足売り抑え</text>
</svg>
<div class="t" style="left:25.6px;top:4.5px;font-size:13px;line-height:17px;color:#c5c8d0;letter-spacing:0.2px;-webkit-text-stroke:.3px #c5c8d0;">米ドル／円</div>
<div class="t" style="left:103.4px;top:4.6px;font-size:12.6px;line-height:16px;color:#c5c8d0;letter-spacing:-1.81px;font-weight:bold;">1</div>
<div class="t" style="left:109.4px;top:4.5px;font-size:13px;line-height:17px;color:#c5c8d0;letter-spacing:-0.4px;-webkit-text-stroke:.3px #c5c8d0;">週</div>
<div class="t" style="left:133.1px;top:5.2px;font-size:11.5px;line-height:15px;color:#c5c8d0;letter-spacing:-0.04px;-webkit-text-stroke:.3px #c5c8d0;">OANDA</div>
<div class="t" style="left:25.6px;top:306.5px;font-size:13px;line-height:17px;color:#c5c8d0;letter-spacing:0.2px;-webkit-text-stroke:.3px #c5c8d0;">米ドル／円</div>
<div class="t" style="left:103.4px;top:306.6px;font-size:12.6px;line-height:16px;color:#c5c8d0;letter-spacing:-1.81px;font-weight:bold;">1</div>
<div class="t" style="left:109.4px;top:306.5px;font-size:13px;line-height:17px;color:#c5c8d0;letter-spacing:-0.4px;-webkit-text-stroke:.3px #c5c8d0;">日</div>
<div class="t" style="left:133.1px;top:307.2px;font-size:11.5px;line-height:15px;color:#c5c8d0;letter-spacing:-0.04px;-webkit-text-stroke:.3px #c5c8d0;">OANDA</div>
<div class="t" style="left:226.6px;top:4.9px;font-size:10.5px;line-height:14px;color:#c5c8d0;letter-spacing:0px;-webkit-text-stroke:.2px #c5c8d0;">始値</div>
<div class="t" style="left:250px;top:4.9px;font-size:10.5px;line-height:14px;color:#259c90;letter-spacing:-0.14px;-webkit-text-stroke:.2px #259c90;">152.728</div>
<div class="t" style="left:292.6px;top:4.9px;font-size:10.5px;line-height:14px;color:#c5c8d0;letter-spacing:0.05px;-webkit-text-stroke:.2px #c5c8d0;">高値</div>
<div class="t" style="left:315.6px;top:4.9px;font-size:10.5px;line-height:14px;color:#259c90;letter-spacing:-0.11px;-webkit-text-stroke:.2px #259c90;">154.874</div>
<div class="t" style="left:358.7px;top:4.9px;font-size:10.5px;line-height:14px;color:#c5c8d0;letter-spacing:0.05px;-webkit-text-stroke:.2px #c5c8d0;">安値</div>
<div class="t" style="left:381.4px;top:4.9px;font-size:10.5px;line-height:14px;color:#259c90;letter-spacing:-0.14px;-webkit-text-stroke:.2px #259c90;">152.632</div>
<div class="t" style="left:424.8px;top:4.9px;font-size:10.5px;line-height:14px;color:#c5c8d0;letter-spacing:0.05px;-webkit-text-stroke:.2px #c5c8d0;">終値</div>
<div class="t" style="left:447.3px;top:4.9px;font-size:10.5px;line-height:14px;color:#259c90;letter-spacing:-0.18px;-webkit-text-stroke:.2px #259c90;">154.794</div>
<div class="t" style="left:491.8px;top:4.9px;font-size:10.5px;line-height:14px;color:#259c90;letter-spacing:-0.45px;-webkit-text-stroke:.2px #259c90;">+2.083</div>
<div class="t" style="left:526.2px;top:4.9px;font-size:10.5px;line-height:14px;color:#259c90;letter-spacing:-0.26px;-webkit-text-stroke:.2px #259c90;">(+1.36%)</div>
<div class="t" style="left:226.6px;top:307.3px;font-size:10.5px;line-height:14px;color:#c5c8d0;letter-spacing:0px;-webkit-text-stroke:.2px #c5c8d0;">始値</div>
<div class="t" style="left:250px;top:307.3px;font-size:10.5px;line-height:14px;color:#259c90;letter-spacing:-0.14px;-webkit-text-stroke:.2px #259c90;">154.782</div>
<div class="t" style="left:292.6px;top:307.3px;font-size:10.5px;line-height:14px;color:#c5c8d0;letter-spacing:0.05px;-webkit-text-stroke:.2px #c5c8d0;">高値</div>
<div class="t" style="left:315.6px;top:307.3px;font-size:10.5px;line-height:14px;color:#259c90;letter-spacing:-0.11px;-webkit-text-stroke:.2px #259c90;">154.804</div>
<div class="t" style="left:358.7px;top:307.3px;font-size:10.5px;line-height:14px;color:#c5c8d0;letter-spacing:0.05px;-webkit-text-stroke:.2px #c5c8d0;">安値</div>
<div class="t" style="left:381.4px;top:307.3px;font-size:10.5px;line-height:14px;color:#259c90;letter-spacing:-0.14px;-webkit-text-stroke:.2px #259c90;">154.782</div>
<div class="t" style="left:424.6px;top:307.3px;font-size:10.5px;line-height:14px;color:#c5c8d0;letter-spacing:0px;-webkit-text-stroke:.2px #c5c8d0;">終値</div>
<div class="t" style="left:447.5px;top:307.3px;font-size:10.5px;line-height:14px;color:#259c90;letter-spacing:-0.11px;-webkit-text-stroke:.2px #259c90;">154.794</div>
<div class="t" style="left:491.2px;top:307.3px;font-size:10.5px;line-height:14px;color:#259c90;letter-spacing:-0.38px;-webkit-text-stroke:.2px #259c90;">−0.030</div>
<div class="t" style="left:526.8px;top:307.3px;font-size:10.5px;line-height:14px;color:#259c90;letter-spacing:-0.35px;-webkit-text-stroke:.2px #259c90;">(−0.02%)</div>
<div class="t" style="left:23px;top:26.9px;font-size:10.5px;line-height:14px;color:#d0d3da;letter-spacing:-0.74px;font-weight:bold;">3</div>
<div class="t" style="left:23px;top:329.3px;font-size:10.5px;line-height:14px;color:#d0d3da;letter-spacing:-0.74px;font-weight:bold;">2</div>
<div class="t" style="left:981.6px;top:5.2px;font-size:10.8px;line-height:14px;color:#d6d8de;letter-spacing:0px;transform:scaleX(0.8);transform-origin:0 50%;">JPY</div>
<div class="t" style="left:981.6px;top:307px;font-size:10.8px;line-height:14px;color:#d6d8de;letter-spacing:0px;transform:scaleX(0.8);transform-origin:0 50%;">JPY</div>
<div class="t" style="left:982.6px;top:38.5px;font-size:10px;line-height:13px;color:#b4b7c0;letter-spacing:-0.19px;">160.000</div>
<div class="t" style="left:982.6px;top:63.86px;font-size:10px;line-height:13px;color:#b4b7c0;letter-spacing:-0.19px;">157.500</div>
<div class="t" style="left:982.6px;top:139.94px;font-size:10px;line-height:13px;color:#b4b7c0;letter-spacing:-0.19px;">150.000</div>
<div class="t" style="left:982.6px;top:165.3px;font-size:10px;line-height:13px;color:#b4b7c0;letter-spacing:-0.19px;">147.500</div>
<div class="t" style="left:982.6px;top:190.66px;font-size:10px;line-height:13px;color:#b4b7c0;letter-spacing:-0.19px;">145.000</div>
<div class="t" style="left:982.6px;top:216.02px;font-size:10px;line-height:13px;color:#b4b7c0;letter-spacing:-0.19px;">142.500</div>
<div class="t" style="left:982.6px;top:241.38px;font-size:10px;line-height:13px;color:#b4b7c0;letter-spacing:-0.19px;">140.000</div>
<div class="t" style="left:982.6px;top:266.74px;font-size:10px;line-height:13px;color:#b4b7c0;letter-spacing:-0.19px;height:8.46px;overflow:hidden;">137.500</div>
<div class="t" style="left:982.9px;top:78.3px;font-size:10px;line-height:13px;color:#0d3b4c;letter-spacing:-0.24px;">155.555</div>
<div class="t" style="left:982.9px;top:92.2px;font-size:10px;line-height:13px;color:#ffffff;letter-spacing:-0.24px;font-weight:bold;">154.794</div>
<div class="t" style="left:982.9px;top:102.8px;font-size:10px;line-height:13px;color:#e8f6f4;letter-spacing:-0.28px;">2d 0h</div>
<div class="t" style="left:982.9px;top:118px;font-size:10px;line-height:13px;color:#0d3b4c;letter-spacing:-0.24px;">154.343</div>
<div class="t" style="left:937.7px;top:92.7px;font-size:9.4px;line-height:12px;color:#ffffff;letter-spacing:0px;font-weight:bold;transform:scaleX(0.88);transform-origin:0 50%;">USDJPY</div>
<div class="t" style="left:982.6px;top:371.5px;font-size:10px;line-height:13px;color:#b4b7c0;letter-spacing:-0.19px;height:4.6px;overflow:hidden;">156.000</div>
<div class="t" style="left:982.6px;top:434.6px;font-size:10px;line-height:13px;color:#b4b7c0;letter-spacing:-0.19px;">152.000</div>
<div class="t" style="left:982.6px;top:465.9px;font-size:10px;line-height:13px;color:#b4b7c0;letter-spacing:-0.19px;">150.000</div>
<div class="t" style="left:982.6px;top:496.7px;font-size:10px;line-height:13px;color:#b4b7c0;letter-spacing:-0.19px;">148.000</div>
<div class="t" style="left:982.6px;top:527.4px;font-size:10px;line-height:13px;color:#b4b7c0;letter-spacing:-0.19px;">146.000</div>
<div class="t" style="left:982.9px;top:334px;font-size:10px;line-height:13px;color:#1b1e27;letter-spacing:-0.24px;">157.786</div>
<div class="t" style="left:982.9px;top:348.2px;font-size:10px;line-height:13px;color:#1b1e27;letter-spacing:-0.24px;">157.517</div>
<div class="t" style="left:982.9px;top:376.6px;font-size:10px;line-height:13px;color:#0d3b4c;letter-spacing:-0.24px;">155.555</div>
<div class="t" style="left:982.9px;top:391.1px;font-size:10px;line-height:13px;color:#ffffff;letter-spacing:-0.24px;font-weight:bold;">154.794</div>
<div class="t" style="left:982.9px;top:402.6px;font-size:10px;line-height:13px;color:#e8f6f4;letter-spacing:-0.1px;">23:54:07</div>
<div class="t" style="left:982.9px;top:417px;font-size:10px;line-height:13px;color:#0d3b4c;letter-spacing:-0.24px;">154.343</div>
<div class="t" style="left:951.5px;top:512.2px;font-size:15.5px;line-height:20px;color:#4a4a4a;letter-spacing:-3.12px;">1</div>
<div class="t" style="left:13.12px;top:279px;font-size:10.7px;line-height:14px;color:#c3c6ce;letter-spacing:-0.17px;font-weight:bold;">5<span class="m">月</span></div>
<div class="t" style="left:76.78px;top:279px;font-size:10.7px;line-height:14px;color:#c3c6ce;letter-spacing:-0.17px;font-weight:bold;">7<span class="m">月</span></div>
<div class="t" style="left:148.4px;top:279px;font-size:10.7px;line-height:14px;color:#c3c6ce;letter-spacing:-0.17px;font-weight:bold;">9<span class="m">月</span></div>
<div class="t" style="left:217.52px;top:279px;font-size:10.7px;line-height:14px;color:#c3c6ce;letter-spacing:-0.23px;font-weight:bold;">11<span class="m">月</span></div>
<div class="t" style="left:287.74px;top:279px;font-size:10.7px;line-height:14px;color:#c3c6ce;letter-spacing:-0.35px;font-weight:bold;">2025</div>
<div class="t" style="left:355.31px;top:279px;font-size:10.7px;line-height:14px;color:#c3c6ce;letter-spacing:-0.17px;font-weight:bold;">3<span class="m">月</span></div>
<div class="t" style="left:426.93px;top:279px;font-size:10.7px;line-height:14px;color:#c3c6ce;letter-spacing:-0.17px;font-weight:bold;">5<span class="m">月</span></div>
<div class="t" style="left:498.55px;top:279px;font-size:10.7px;line-height:14px;color:#c3c6ce;letter-spacing:-0.17px;font-weight:bold;">7<span class="m">月</span></div>
<div class="t" style="left:562.22px;top:279px;font-size:10.7px;line-height:14px;color:#c3c6ce;letter-spacing:-0.17px;font-weight:bold;">9<span class="m">月</span></div>
<div class="t" style="left:631.33px;top:279px;font-size:10.7px;line-height:14px;color:#c3c6ce;letter-spacing:-0.23px;font-weight:bold;">11<span class="m">月</span></div>
<div class="t" style="left:701.56px;top:279px;font-size:10.7px;line-height:14px;color:#c3c6ce;letter-spacing:-0.35px;font-weight:bold;">2026</div>
<div class="t" style="left:769.13px;top:279px;font-size:10.7px;line-height:14px;color:#c3c6ce;letter-spacing:-0.17px;font-weight:bold;">3<span class="m">月</span></div>
<div class="t" style="left:840.75px;top:279px;font-size:10.7px;line-height:14px;color:#c3c6ce;letter-spacing:-0.17px;font-weight:bold;">5<span class="m">月</span></div>
<div class="t" style="left:912.37px;top:279px;font-size:10.7px;line-height:14px;color:#c3c6ce;letter-spacing:-0.17px;font-weight:bold;">7<span class="m">月</span></div>
<div class="t" style="left:147.59px;top:550.5px;font-size:10.7px;line-height:14px;color:#c3c6ce;letter-spacing:-0.23px;font-weight:bold;">11<span class="m">月</span></div>
<div class="t" style="left:309px;top:550.5px;font-size:10.7px;line-height:14px;color:#c3c6ce;letter-spacing:-0.23px;font-weight:bold;">12<span class="m">月</span></div>
<div class="t" style="left:486.4px;top:550.5px;font-size:10.7px;line-height:14px;color:#c3c6ce;letter-spacing:-0.35px;font-weight:bold;">2026</div>
<div class="t" style="left:659.8px;top:550.5px;font-size:10.7px;line-height:14px;color:#c3c6ce;letter-spacing:-0.17px;font-weight:bold;">2<span class="m">月</span></div>
<div class="t" style="left:821.8px;top:550.5px;font-size:10.7px;line-height:14px;color:#c3c6ce;letter-spacing:-0.17px;font-weight:bold;">3<span class="m">月</span></div>
</body></html>
